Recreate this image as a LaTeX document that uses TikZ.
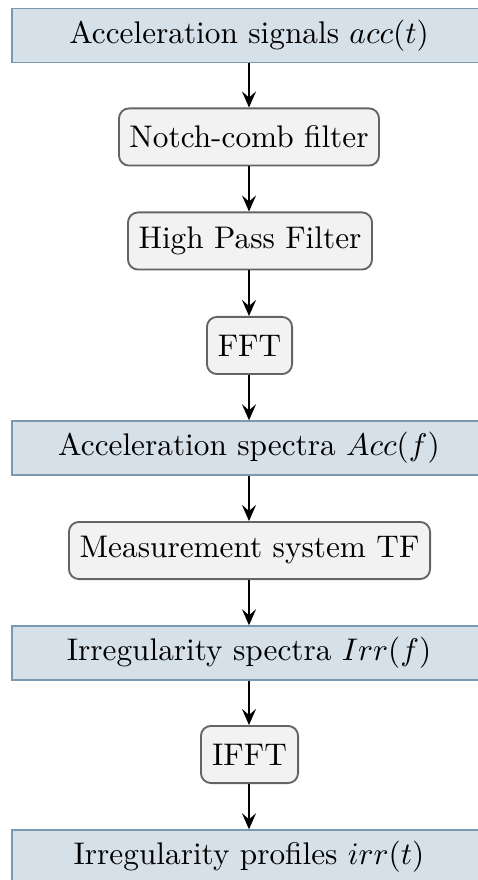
\documentclass[tikz,border=0pt]{standalone}
\usetikzlibrary{arrows.meta}
\definecolor{bluefill}{RGB}{214,224,233}
\definecolor{blueedge}{RGB}{122,152,178}
\definecolor{grayfill}{RGB}{242,242,242}
\definecolor{grayedge}{RGB}{100,100,100}
\begin{document}
\begin{tikzpicture}[x=0.35pt,y=-0.35pt,
  databox/.style={draw=blueedge,fill=bluefill,line width=0.5pt,inner sep=0pt,minimum width=165.9pt,minimum height=18.9pt},
  procbox/.style={draw=grayedge,fill=grayfill,line width=0.65pt,rounded corners=3.5pt,inner sep=0pt,minimum height=20pt},
  flow/.style={line width=0.7pt,-{Stealth[length=5.6pt,width=4.9pt,inset=2.1pt]}},
  font=\fontsize{10.95}{13}\selectfont]
\useasboundingbox (0,0) rectangle (477,880);
\node[databox] (acc) at (249,35.5) {Acceleration signals $acc(t)$};
\node[procbox,minimum width=91pt] (notch) at (249,137) {Notch-comb filter};
\node[procbox,minimum width=85.4pt] (hpf) at (250,241) {High Pass Filter};
\node[procbox,minimum width=29.8pt] (fft) at (249.5,345.5) {FFT};
\node[databox] (accs) at (249,448) {Acceleration spectra $Acc(f)$};
\node[procbox,minimum width=126.4pt] (meas) at (249.5,550.5) {Measurement system TF};
\node[databox] (irrs) at (249,653) {Irregularity spectra $Irr(f)$};
\node[procbox,minimum width=34pt] (ifft) at (249.5,754.5) {IFFT};
\node[databox] (irrp) at (249,857) {Irregularity profiles $irr(t)$};
\draw[flow] (acc.south -| notch) -- (notch.north);
\draw[flow] (notch) -- (hpf.north -| notch);
\draw[flow] (hpf.south -| notch) -- (fft.north -| notch);
\draw[flow] (fft.south -| notch) -- (accs.north -| notch);
\draw[flow] (accs.south -| notch) -- (meas.north -| notch);
\draw[flow] (meas.south -| notch) -- (irrs.north -| notch);
\draw[flow] (irrs.south -| notch) -- (ifft.north -| notch);
\draw[flow] (ifft.south -| notch) -- (irrp.north -| notch);
\end{tikzpicture}
\end{document}
